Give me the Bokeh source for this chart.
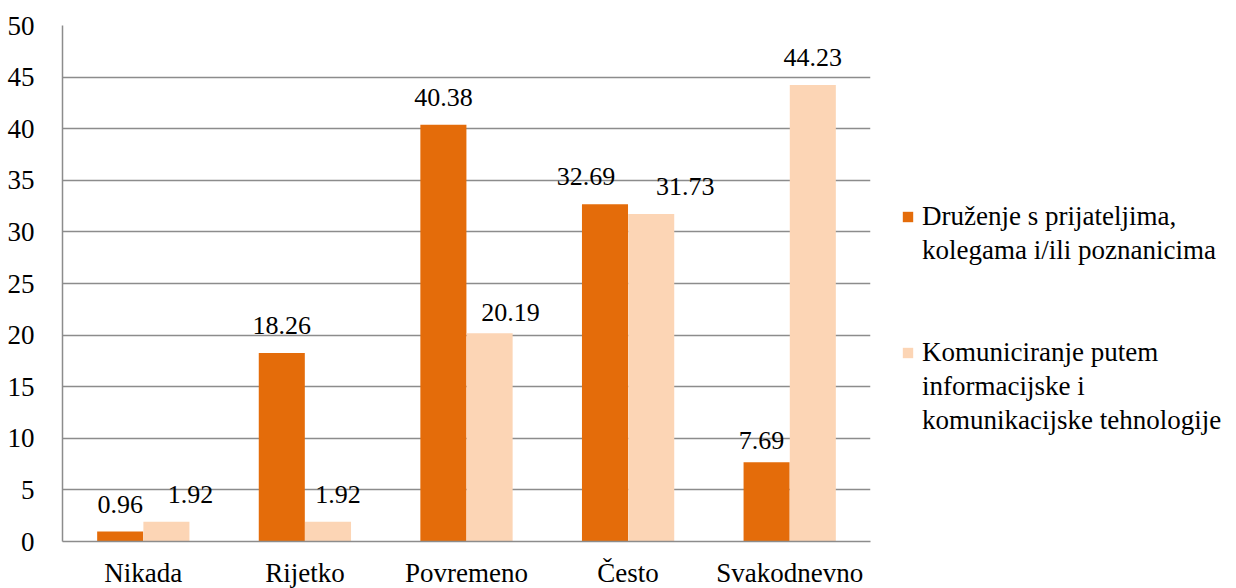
from bokeh.plotting import figure
from bokeh.models import ColumnDataSource, LabelSet, Legend, LegendItem
from bokeh.transform import dodge
from bokeh.embed import file_html
from bokeh.resources import INLINE

categories = ["Nikada", "Rijetko", "Povremeno", "Često", "Svakodnevno"]
druzenje = [0.96, 18.26, 40.38, 32.69, 7.69]
komuniciranje = [1.92, 1.92, 20.19, 31.73, 44.23]
series1_lines = ["Druženje s prijateljima,", "kolegama i/ili poznanicima"]
series2_lines = ["Komuniciranje putem", "informacijske i", "komunikacijske tehnologije"]
y_ticks = [0, 5, 10, 15, 20, 25, 30, 35, 40, 45, 50]

# label nudges (screen px), as placed in the original
dx1 = [0, 0, 0, -19, -5]
dx2 = [24, 10, 21, 34, 0]
dy1 = [19, 19, 19, 19, 13]
dy2 = [19, 19, 12, 19, 19]

ORANGE = "#E46C0A"
PEACH = "#FCD5B5"
GRID = "#8C8C8C"

src = ColumnDataSource(dict(
    cat=categories, a=druzenje, b=komuniciranje,
    la=[f"{v:.2f}" for v in druzenje], lb=[f"{v:.2f}" for v in komuniciranje],
    dx1=dx1, dx2=dx2, dy1=dy1, dy2=dy2,
))

p = figure(x_range=categories, y_range=(0, 50), frame_width=808, frame_height=516,
           output_backend="svg", toolbar_location=None,
           min_border_left=62, min_border_top=25, min_border_right=366, min_border_bottom=4)

off = 0.143
w = 0.285
r1 = p.vbar(x=dodge("cat", -off, range=p.x_range), top="a", width=w, source=src,
            fill_color=ORANGE, line_color=None)
r2 = p.vbar(x=dodge("cat", off, range=p.x_range), top="b", width=w, source=src,
            fill_color=PEACH, line_color=None)
# invisible swatch used for continuation lines of the legend
blank = p.vbar(x=[], top=[], width=w, fill_alpha=0, line_alpha=0)

lab_font = "Lato"
l1 = LabelSet(x=dodge("cat", -off, range=p.x_range), y="a", text="la", source=src,
              x_offset="dx1", y_offset="dy1", text_align="center", text_baseline="alphabetic",
              text_font=lab_font, text_font_size="26px", text_color="#000000")
l2 = LabelSet(x=dodge("cat", off, range=p.x_range), y="b", text="lb", source=src,
              x_offset="dx2", y_offset="dy2", text_align="center", text_baseline="alphabetic",
              text_font=lab_font, text_font_size="26px", text_color="#000000")
p.add_layout(l1)
p.add_layout(l2)

p.yaxis.ticker = y_ticks
p.yaxis.major_label_text_font = "Liberation Serif"
p.yaxis.major_label_text_font_size = "27px"
p.yaxis.major_label_text_color = "#000000"
p.yaxis.major_label_standoff = 22
p.xaxis.major_label_text_font = "Liberation Serif"
p.xaxis.major_label_text_font_size = "27px"
p.xaxis.major_label_text_color = "#000000"
p.xaxis.major_label_standoff = 10
for ax in (p.xaxis, p.yaxis):
    ax.axis_line_color = GRID
    ax.axis_line_width = 1.5
    ax.major_tick_line_color = None
    ax.minor_tick_line_color = None
p.xgrid.grid_line_color = None
p.ygrid.grid_line_color = GRID
p.ygrid.grid_line_width = 1.5
p.outline_line_color = None
p.x_range.range_padding = 0

items = [LegendItem(label=series1_lines[0], renderers=[r1]),
         LegendItem(label=series1_lines[1], renderers=[blank]),
         LegendItem(label=" ", renderers=[blank]),
         LegendItem(label=" ", renderers=[blank]),
         LegendItem(label=series2_lines[0], renderers=[r2]),
         LegendItem(label=series2_lines[1], renderers=[blank]),
         LegendItem(label=series2_lines[2], renderers=[blank])]
legend = Legend(items=items, location=(31, 104), orientation="vertical",
                label_text_font="Liberation Serif", label_text_font_size="27px",
                label_text_color="#000000", label_height=34,
                glyph_width=13, glyph_height=13, label_standoff=8, spacing=0,
                padding=0, margin=0, border_line_color=None, background_fill_alpha=0,
                inactive_fill_alpha=0)
p.add_layout(legend, "right")

open("out.html", "w").write(file_html(p, INLINE))
